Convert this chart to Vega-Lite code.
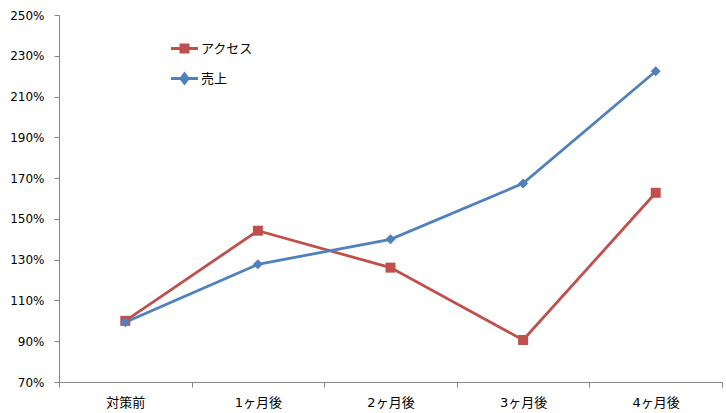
{
  "$schema": "https://vega.github.io/schema/vega-lite/v6.json",
  "width": 663,
  "height": 367,
  "autosize": {"type": "none"},
  "padding": {"left": 59, "top": 15, "right": 4, "bottom": 31},
  "background": "white",
  "config": {
    "view": {"stroke": null},
    "font": "DejaVu Sans, Noto Sans CJK JP",
    "axis": {"domainColor": "#868686", "tickColor": "#868686", "grid": false, "labelColor": "#000000", "title": null}
  },
  "data": {
    "values": [
      {"period": "対策前", "series": "アクセス", "value": 1.0},
      {"period": "1ヶ月後", "series": "アクセス", "value": 1.442},
      {"period": "2ヶ月後", "series": "アクセス", "value": 1.261},
      {"period": "3ヶ月後", "series": "アクセス", "value": 0.906},
      {"period": "4ヶ月後", "series": "アクセス", "value": 1.628},
      {"period": "対策前", "series": "売上", "value": 0.993},
      {"period": "1ヶ月後", "series": "売上", "value": 1.277},
      {"period": "2ヶ月後", "series": "売上", "value": 1.40},
      {"period": "3ヶ月後", "series": "売上", "value": 1.674},
      {"period": "4ヶ月後", "series": "売上", "value": 2.224}
    ]
  },
  "encoding": {
    "x": {
      "field": "period", "type": "nominal", "bandPosition": 0.5,
      "sort": ["対策前", "1ヶ月後", "2ヶ月後", "3ヶ月後", "4ヶ月後"],
      "scale": {"type": "band", "paddingInner": 0, "paddingOuter": 0},
      "axis": {"tickBand": "extent", "labelAngle": 0, "labelFontSize": 13, "labelPadding": 9, "tickSize": 5, "labelFont": "DejaVu Sans, Noto Sans CJK JP"}
    },
    "y": {
      "field": "value", "type": "quantitative",
      "scale": {"domain": [0.7, 2.5], "nice": false, "zero": false},
      "axis": {"values": [0.7, 0.9, 1.1, 1.3, 1.5, 1.7, 1.9, 2.1, 2.3, 2.5], "format": ".0%", "labelFontSize": 12, "labelPadding": 10, "tickSize": 5}
    },
    "color": {
      "field": "series", "type": "nominal",
      "scale": {"domain": ["アクセス", "売上"], "range": ["#C0504D", "#4F81BD"]},
      "legend": {
        "title": null, "orient": "none", "legendX": 119, "legendY": 27, "padding": 0,
        "symbolSize": 100, "labelOffset": 10, "labelFontSize": 13, "rowPadding": 10,
        "labelColor": "#000000",
        "encode": {
          "symbols": {
            "enter": {
              "shape": {"signal": "datum.value === 'アクセス' ? 'M-2.7,0H2.7M-0.7,-0.7H0.7V0.7H-0.7Z' : 'M-2.7,0H2.7M0,-0.9L0.7,0L0,0.9L-0.7,0Z'"}
            },
            "update": {
              "shape": {"signal": "datum.value === 'アクセス' ? 'M-2.7,0H2.7M-0.7,-0.7H0.7V0.7H-0.7Z' : 'M-2.7,0H2.7M0,-0.9L0.7,0L0,0.9L-0.7,0Z'"},
              "fill": {"scale": "color", "field": "value"},
              "stroke": {"scale": "color", "field": "value"},
              "strokeWidth": {"value": 3},
              "opacity": {"value": 1}
            }
          }
        }
      }
    }
  },
  "layer": [
    {"mark": {"type": "line", "strokeWidth": 2.8}},
    {
      "transform": [{"filter": "datum.series === 'アクセス'"}],
      "mark": {"type": "point", "shape": "square", "filled": true, "opacity": 1, "size": 100}
    },
    {
      "transform": [{"filter": "datum.series === '売上'"}],
      "mark": {"type": "point", "shape": "diamond", "filled": true, "opacity": 1, "size": 100}
    }
  ]
}
